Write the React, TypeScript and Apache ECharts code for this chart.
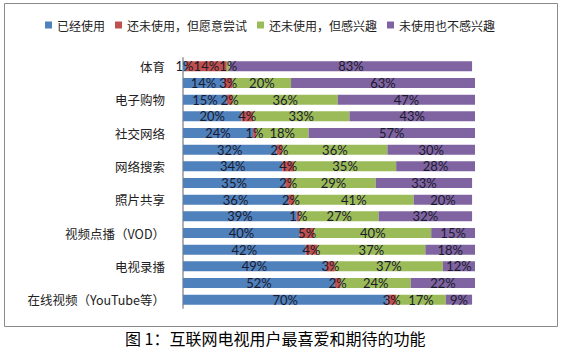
import React, { useEffect, useRef } from "react";
import * as echarts from "echarts";

const categories = [
  "体育", "", "电子购物", "", "社交网络", "", "网络搜索", "", "照片共享", "",
  "视频点播（VOD）", "", "电视录播", "", "在线视频（YouTube等）",
];
const seriesNames = ["已经使用", "还未使用，但愿意尝试", "还未使用，但感兴趣", "未使用也不感兴趣"];
const used = [1, 14, 15, 20, 24, 32, 34, 35, 36, 39, 40, 42, 49, 52, 70];
const willTry = [14, 3, 2, 4, 1, 2, 4, 2, 2, 1, 5, 4, 3, 2, 3];
const interested = [1, 20, 36, 33, 18, 36, 35, 29, 41, 27, 40, 37, 37, 24, 17];
const notInterested = [83, 63, 47, 43, 57, 30, 28, 33, 20, 32, 15, 18, 12, 22, 9];
const colors = ["#4F81BD", "#C0504D", "#9BBB59", "#8064A2"];
const caption = "图 1：互联网电视用户最喜爱和期待的功能";

export default function App() {
  const ref = useRef<HTMLDivElement>(null);
  useEffect(() => {
    if (!ref.current) return;
    const chart = echarts.init(ref.current, undefined, { renderer: "svg" });
    const values = [used, willTry, interested, notInterested];
    chart.setOption({
      animation: false,
      textStyle: { fontFamily: "'Noto Sans CJK SC', 'Open Sans', sans-serif" },
      graphic: [
        {
          type: "rect",
          shape: { x: 4.5, y: 3.5, width: 553, height: 323 },
          style: { fill: "none", stroke: "#8a8a8a", lineWidth: 1 },
          silent: true,
        },
        {
          type: "text",
          left: 125,
          top: 330,
          style: {
            text: caption,
            fontSize: 16,
            fill: "#000",
            fontFamily: "'Noto Sans CJK SC', serif",
          },
        },
      ],
      legend: {
        top: 14,
        left: 40,
        itemWidth: 7,
        itemHeight: 7,
        itemGap: 10,
        icon: "rect",
        textStyle: { fontSize: 12, color: "#222", fontFamily: "'Noto Sans CJK SC', sans-serif" },
        data: seriesNames,
      },
      grid: { left: 183, right: 87, top: 58, bottom: 45, containLabel: false },
      xAxis: {
        type: "value",
        min: 0,
        max: 100,
        show: false,
      },
      yAxis: {
        type: "category",
        inverse: true,
        data: categories,
        axisLine: { show: true, lineStyle: { color: "#b0b0b0", width: 2 } },
        axisTick: { show: false },
        axisLabel: {
          interval: 0,
          fontSize: 12.5,
          color: "#222",
          margin: 18,
          fontFamily: "'Noto Sans CJK SC', sans-serif",
        },
      },
      series: seriesNames.map((name, i) => ({
        name,
        type: "bar",
        stack: "total",
        barWidth: 10,
        data: values[i],
        itemStyle: { color: colors[i] },
        label: {
          show: true,
          position: "inside",
          formatter: "{c}%",
          color: "#1b1b2e",
          fontSize: 13,
          fontFamily: "Lato, 'Open Sans', sans-serif",
        },
      })),
      color: colors,
    });
    return () => chart.dispose();
  }, []);
  return (
    <div
      ref={ref}
      style={{ position: "absolute", left: 0, top: 0, width: 562, height: 353 }}
    />
  );
}
